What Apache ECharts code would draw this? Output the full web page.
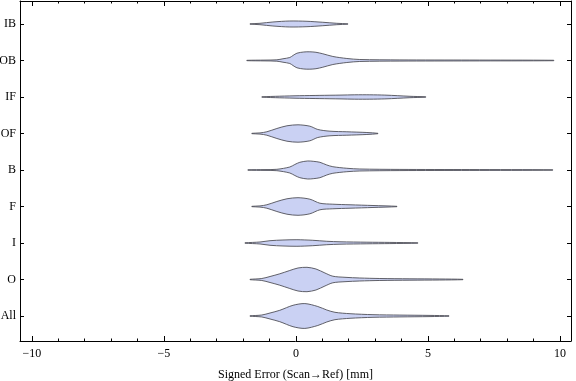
<!DOCTYPE html>
<html>
<head>
<meta charset="utf-8">
<script src="https://cdn.jsdelivr.net/npm/echarts@6/dist/echarts.min.js"></script>
<style>html,body{margin:0;padding:0;background:#fff;}#c{width:576px;height:381px;}</style>
</head>
<body>
<div id="c"></div>
<script>
// categories, bottom to top (y position 1..9)
const categories = ['All', 'O', 'I', 'F', 'B', 'OF', 'IF', 'OB', 'IB'];
// violin profiles: [signed error (mm), half-width of density (y units)]
const violinAll = [[-1.74,0.005],[-1.29,0.027],[-0.98,0.082],[-0.61,0.156],[-0.11,0.293],[0.34,0.34],[0.83,0.26],[1.17,0.164],[1.48,0.101],[2.05,0.063],[2.92,0.036],[3.94,0.025],[5.08,0.016],[5.80,0.005]];
const violinO = [[-1.74,0.005],[-1.29,0.027],[-0.98,0.082],[-0.61,0.156],[-0.23,0.247],[0.08,0.315],[0.42,0.334],[0.76,0.288],[1.10,0.178],[1.40,0.09],[1.86,0.06],[2.42,0.041],[3.18,0.027],[4.32,0.019],[5.45,0.014],[6.33,0.005]];
const violinI = [[-1.93,0.005],[-1.36,0.027],[-0.98,0.063],[-0.49,0.082],[0.04,0.09],[0.64,0.074],[1.17,0.047],[1.67,0.033],[2.69,0.022],[3.56,0.016],[4.62,0.005]];
const violinF = [[-1.67,0.005],[-1.36,0.016],[-1.10,0.047],[-0.72,0.137],[-0.34,0.211],[0.08,0.241],[0.53,0.2],[0.91,0.09],[1.40,0.063],[2.05,0.047],[2.92,0.027],[3.83,0.005]];
const violinB = [[-1.82,0.005],[-1.17,0.011],[-0.72,0.019],[-0.23,0.082],[-0.04,0.151],[0.15,0.211],[0.45,0.247],[0.68,0.236],[0.91,0.211],[1.17,0.137],[1.40,0.09],[1.93,0.047],[2.42,0.027],[3.94,0.016],[6.59,0.012],[9.73,0.006]];
const violinOF = [[-1.67,0.005],[-1.36,0.016],[-1.10,0.047],[-0.72,0.137],[-0.34,0.211],[0.08,0.238],[0.53,0.2],[0.83,0.11],[1.29,0.063],[1.93,0.047],[2.69,0.027],[3.11,0.005]];
const violinIF = [[-1.29,0.005],[-0.61,0.022],[0.15,0.036],[0.91,0.044],[1.67,0.052],[2.23,0.06],[2.80,0.06],[3.37,0.052],[3.86,0.036],[4.32,0.019],[4.92,0.005]];
const violinOB = [[-1.86,0.005],[-1.17,0.011],[-0.72,0.019],[-0.49,0.047],[-0.23,0.082],[-0.11,0.137],[0.04,0.2],[0.30,0.233],[0.53,0.238],[0.76,0.225],[1.02,0.184],[1.40,0.11],[1.93,0.055],[2.42,0.027],[3.94,0.016],[6.59,0.012],[9.77,0.006]];
const violinIB = [[-1.74,0.004],[-1.36,0.019],[-0.87,0.055],[-0.23,0.082],[0.42,0.074],[1.02,0.047],[1.55,0.019],[1.97,0.004]];
const profiles = [violinAll, violinO, violinI, violinF, violinB, violinOF, violinIF, violinOB, violinIB];
// axis ticks
const xMajorTicks = [-10, -5, 0, 5, 10];
const xMinorTicks = [-10,-9,-8,-7,-6,-5,-4,-3,-2,-1,0,1,2,3,4,5,6,7,8,9,10];
const yTicks = [1, 2, 3, 4, 5, 6, 7, 8, 9];
const xTitle = 'Signed Error (Scan\u2192Ref) [mm]';

const FONT = '"Liberation Serif", "DejaVu Serif", serif';
const X_MIN = -10.45, X_MAX = 10.42, Y_MIN = 0.315, Y_MAX = 9.63;

function xAxisDef(pos, values, len, showLabel, showLine, name) {
  return {
    type: 'value', position: pos, min: X_MIN, max: X_MAX,
    axisLine: { show: showLine, onZero: false, lineStyle: { color: '#000', width: 1 } },
    axisTick: { show: true, inside: true, length: len, customValues: values, lineStyle: { color: '#000', width: 1 } },
    axisLabel: { show: showLabel, customValues: values, margin: 7, color: '#000',
      fontFamily: FONT, fontSize: 12,
      formatter: v => (v < 0 ? '\u2212' + Math.abs(v) : String(v)) },
    splitLine: { show: false },
    name: name || '', nameLocation: 'middle', nameGap: 28,
    nameTextStyle: { fontFamily: FONT, fontSize: 12, color: '#000' }
  };
}
function yAxisDef(pos, showLabel) {
  return {
    type: 'value', position: pos, min: Y_MIN, max: Y_MAX,
    axisLine: { show: true, onZero: false, lineStyle: { color: '#000', width: 1 } },
    axisTick: { show: true, inside: true, length: 4, customValues: yTicks, lineStyle: { color: '#000', width: 1 } },
    axisLabel: { show: showLabel, customValues: yTicks, margin: 4, color: '#000',
      fontFamily: FONT, fontSize: 12,
      formatter: v => categories[Math.round(v) - 1] || '' },
    splitLine: { show: false }
  };
}

const chart = echarts.init(document.getElementById('c'), null, { renderer: 'canvas' });
chart.setOption({
  animation: false,
  backgroundColor: '#fff',
  grid: { left: 20, right: 5, top: 1, bottom: 40, containLabel: false, outerBoundsMode: 'none' },
  xAxis: [
    xAxisDef('bottom', xMajorTicks, 5, true, true, xTitle),
    xAxisDef('bottom', xMinorTicks, 2.5, false, false),
    xAxisDef('top', xMajorTicks, 5, false, true),
    xAxisDef('top', xMinorTicks, 2.5, false, false)
  ],
  yAxis: [yAxisDef('left', true), yAxisDef('right', false)],
  series: [{
    type: 'custom',
    xAxisIndex: 0, yAxisIndex: 0,
    data: categories.map((c, i) => [i + 1]),
    renderItem: function (params, api) {
      const idx = params.dataIndex;
      const yc = idx + 1;
      const prof = profiles[idx];
      const pts = [];
      for (let k = 0; k < prof.length; k++) pts.push(api.coord([prof[k][0], yc + prof[k][1]]));
      for (let k = prof.length - 1; k >= 0; k--) pts.push(api.coord([prof[k][0], yc - prof[k][1]]));
      return {
        type: 'polygon',
        shape: { points: pts, smooth: 0.3 },
        style: { fill: '#cad1f3', stroke: '#505058', lineWidth: 0.9 }
      };
    }
  }]
});
</script>
</body>
</html>
